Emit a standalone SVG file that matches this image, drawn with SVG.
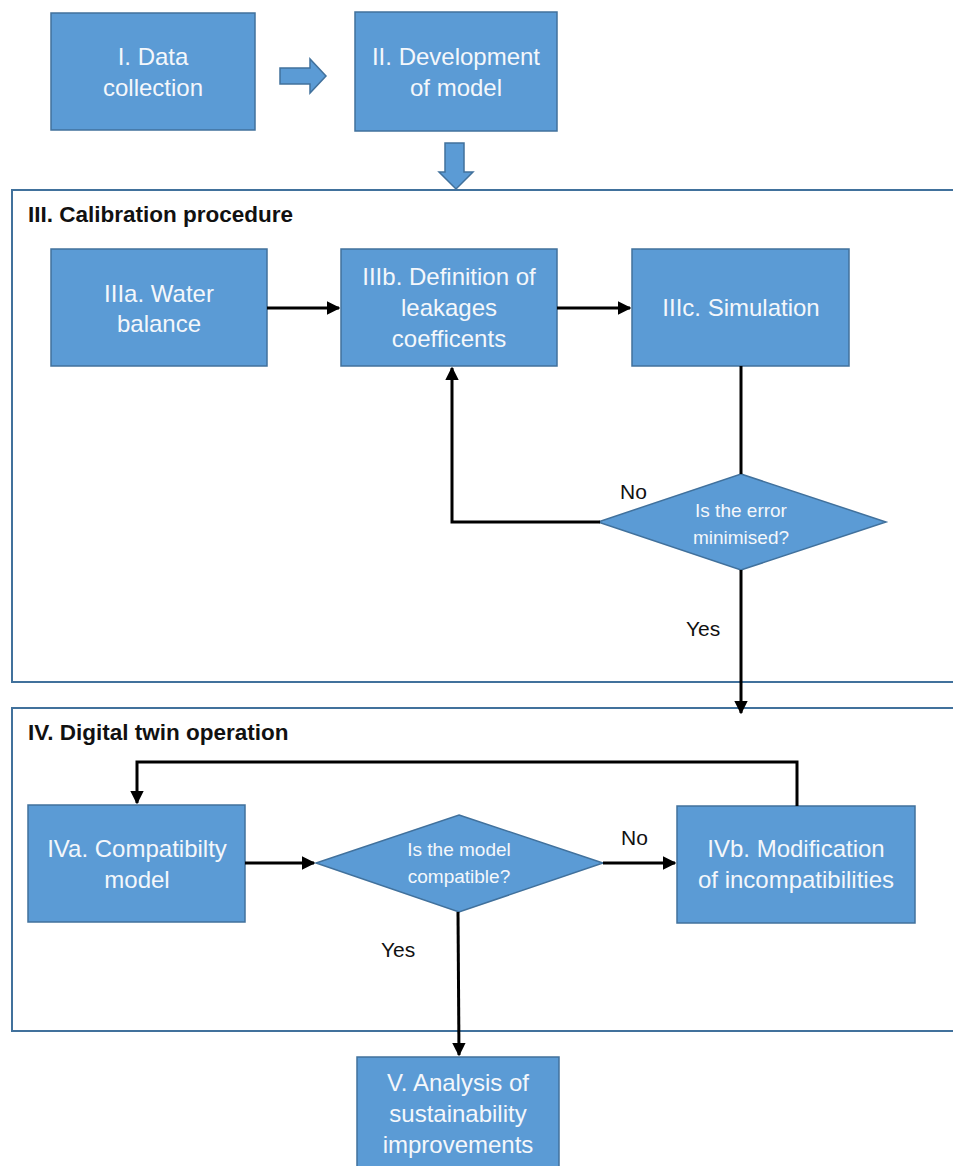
<svg xmlns="http://www.w3.org/2000/svg" width="953" height="1166" viewBox="0 0 953 1166">
<defs>
<style>
.box{fill:#5b9bd5;stroke:#41719c;stroke-width:1.5}
.cont{fill:none;stroke:#41719c;stroke-width:2}
.t{font-family:"Liberation Sans",Arial,sans-serif;font-size:24px;fill:#f4f7fb;text-anchor:middle}
.dt{font-family:"Liberation Sans",Arial,sans-serif;font-size:19px;fill:#f4f7fb;text-anchor:middle}
.title{font-family:"Liberation Sans",Arial,sans-serif;font-size:22.5px;font-weight:bold;fill:#111}
.lbl{font-family:"Liberation Sans",Arial,sans-serif;font-size:21px;fill:#111}
.ln{fill:none;stroke:#000;stroke-width:3}
.blk{fill:#5b9bd5;stroke:#41719c;stroke-width:1.5}
</style>
<marker id="ah" viewBox="0 0 10 10" refX="9" refY="5" markerWidth="4.5" markerHeight="4.5" orient="auto" markerUnits="strokeWidth">
<path d="M0,0 L10,5 L0,10 z" fill="#000"/>
</marker>
</defs>
<rect width="953" height="1166" fill="#fff"/>

<g id="containerIII">
<rect class="cont" x="12" y="190" width="950" height="492"/>
<text class="title" x="28" y="222">III. Calibration procedure</text>
</g>
<g id="containerIV">
<rect class="cont" x="12" y="708" width="950" height="323"/>
<text class="title" x="28" y="740">IV. Digital twin operation</text>
</g>

<g id="nodeI">
<rect class="box" x="51" y="13" width="204" height="117"/>
<text class="t" x="153" y="65">I. Data</text>
<text class="t" x="153" y="96">collection</text>
</g>
<g id="nodeII">
<rect class="box" x="355" y="12" width="202" height="119"/>
<text class="t" x="456" y="65">II. Development</text>
<text class="t" x="456" y="96">of model</text>
</g>
<g id="nodeIIIa">
<rect class="box" x="51" y="249" width="216" height="117"/>
<text class="t" x="159" y="302">IIIa. Water</text>
<text class="t" x="159" y="332">balance</text>
</g>
<g id="nodeIIIb">
<rect class="box" x="341" y="249" width="216" height="117"/>
<text class="t" x="449" y="285">IIIb. Definition of</text>
<text class="t" x="449" y="316">leakages</text>
<text class="t" x="449" y="347">coefficents</text>
</g>
<g id="nodeIIIc">
<rect class="box" x="632" y="249" width="217" height="117"/>
<text class="t" x="741" y="316">IIIc. Simulation</text>
</g>
<g id="decision1">
<polygon class="box" points="741,474 886,522 741,570 598,522"/>
<text class="dt" x="741" y="517">Is the error</text>
<text class="dt" x="741" y="544">minimised?</text>
</g>
<g id="nodeIVa">
<rect class="box" x="28" y="805" width="217" height="117"/>
<text class="t" x="137" y="857">IVa. Compatibilty</text>
<text class="t" x="137" y="888">model</text>
</g>
<g id="decision2">
<polygon class="box" points="459,815 603,863 459,912 316,863"/>
<text class="dt" x="459" y="856">Is the model</text>
<text class="dt" x="459" y="883">compatible?</text>
</g>
<g id="nodeIVb">
<rect class="box" x="677" y="806" width="238" height="117"/>
<text class="t" x="796" y="857">IVb. Modification</text>
<text class="t" x="796" y="888">of incompatibilities</text>
</g>
<g id="nodeV">
<rect class="box" x="357" y="1057" width="202" height="120"/>
<text class="t" x="458" y="1091">V. Analysis of</text>
<text class="t" x="458" y="1122">sustainability</text>
<text class="t" x="458" y="1153">improvements</text>
</g>

<g id="connectors">
<polygon class="blk" points="280,68 310,68 310,59 326,76 310,93 310,84 280,84"/>
<polygon class="blk" points="445,143 464,143 464,172 473,172 456,189 439,172 445,172"/>
<line class="ln" x1="267" y1="308" x2="339" y2="308" marker-end="url(#ah)"/>
<line class="ln" x1="557" y1="308" x2="630" y2="308" marker-end="url(#ah)"/>
<line class="ln" x1="741" y1="366" x2="741" y2="474"/>
<polyline class="ln" points="600,522 452,522 452,368" marker-end="url(#ah)"/>
<line class="ln" x1="741" y1="570" x2="741" y2="713" marker-end="url(#ah)"/>
<line class="ln" x1="245" y1="863" x2="314" y2="863" marker-end="url(#ah)"/>
<line class="ln" x1="603" y1="863" x2="675" y2="863" marker-end="url(#ah)"/>
<polyline class="ln" points="797,806 797,762 137,762 137,803" marker-end="url(#ah)"/>
<line class="ln" x1="458" y1="912" x2="459" y2="1055" marker-end="url(#ah)"/>
<text class="lbl" x="620" y="499">No</text>
<text class="lbl" x="686" y="636">Yes</text>
<text class="lbl" x="621" y="845">No</text>
<text class="lbl" x="381" y="957">Yes</text>
</g>
</svg>
